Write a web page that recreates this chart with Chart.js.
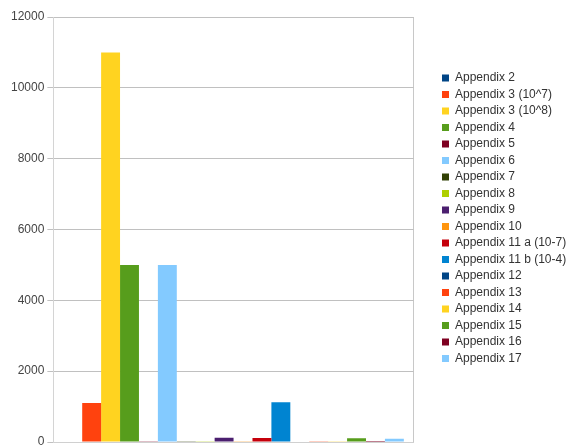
<!DOCTYPE html>
<html>
<head>
<meta charset="utf-8">
<script src="https://cdn.jsdelivr.net/npm/chart.js@4"></script>
<style>
  html, body { margin: 0; padding: 0; background: #fff; }
  #wrap { width: 568px; height: 446px; position: relative; }
</style>
</head>
<body>
<div id="wrap"><canvas id="chart"></canvas></div>
<script>
// one unlabeled category, one bar per appendix
const categories = [''];
const seriesNames = [
  'Appendix 2', 'Appendix 3 (10^7)', 'Appendix 3 (10^8)', 'Appendix 4',
  'Appendix 5', 'Appendix 6', 'Appendix 7', 'Appendix 8', 'Appendix 9',
  'Appendix 10', 'Appendix 11 a (10-7)', 'Appendix 11 b (10-4)', 'Appendix 12',
  'Appendix 13', 'Appendix 14', 'Appendix 15', 'Appendix 16', 'Appendix 17'
];
const seriesValues = [0, 1100, 11000, 5000, 10, 5000, 20, 10, 120, 5, 115, 1120, 0, 10, 10, 105, 30, 95];
const yTicks = [0, 2000, 4000, 6000, 8000, 10000, 12000];

const palette = ['#004586', '#ff420e', '#ffd320', '#579d1c', '#7e0021', '#83caff',
                 '#314004', '#aecf00', '#4b1f6f', '#ff950e', '#c5000b', '#0084d1'];

const datasets = seriesNames.map((name, i) => ({
    label: name,
    data: [seriesValues[i]],
    backgroundColor: palette[i % palette.length],
    borderWidth: 0,
    categoryPercentage: 0.945,
    barPercentage: 1.0
}));

// nudge the legend to where the original puts it
const legendSpot = {
    id: 'legendSpot',
    afterLayout: function(chart) {
        const lg = chart.legend;
        const w = lg.width, h = lg.height;
        lg.left = 437.5;
        lg.right = lg.left + w;
        lg.top = 67.5;
        lg.bottom = lg.top + h;
    }
};

new Chart(document.getElementById('chart'), {
    type: 'bar',
    data: { labels: categories, datasets: datasets },
    plugins: [legendSpot],
    options: {
        responsive: true,
        maintainAspectRatio: false,
        animation: false,
        layout: { padding: { top: 17, bottom: 0, left: 8, right: 19 } },
        plugins: {
            tooltip: { enabled: false },
            legend: {
                position: 'right',
                align: 'start',
                labels: {
                    boxWidth: 7,
                    boxHeight: 7,
                    padding: 4.5,
                    color: '#333',
                    font: { family: 'Liberation Sans', size: 12 }
                }
            }
        },
        scales: {
            x: {
                ticks: { display: false },
                grid: { color: '#c8c8c8', drawTicks: false, offset: true },
                border: { color: '#d0d0d0' },
                afterFit: axis => { axis.height = 0; }
            },
            y: {
                min: 0,
                max: 12000,
                afterBuildTicks: axis => { axis.ticks = yTicks.map(v => ({ value: v })); },
                afterFit: axis => { axis.paddingBottom = 4; },
                ticks: {
                    color: '#444',
                    padding: 3,
                    font: { family: 'Liberation Sans', size: 12 },
                    callback: v => String(v)
                },
                grid: { color: '#c0c0c0', tickLength: 6 },
                border: { color: '#d4d4d4' }
            }
        }
    }
});
</script>
</body>
</html>
